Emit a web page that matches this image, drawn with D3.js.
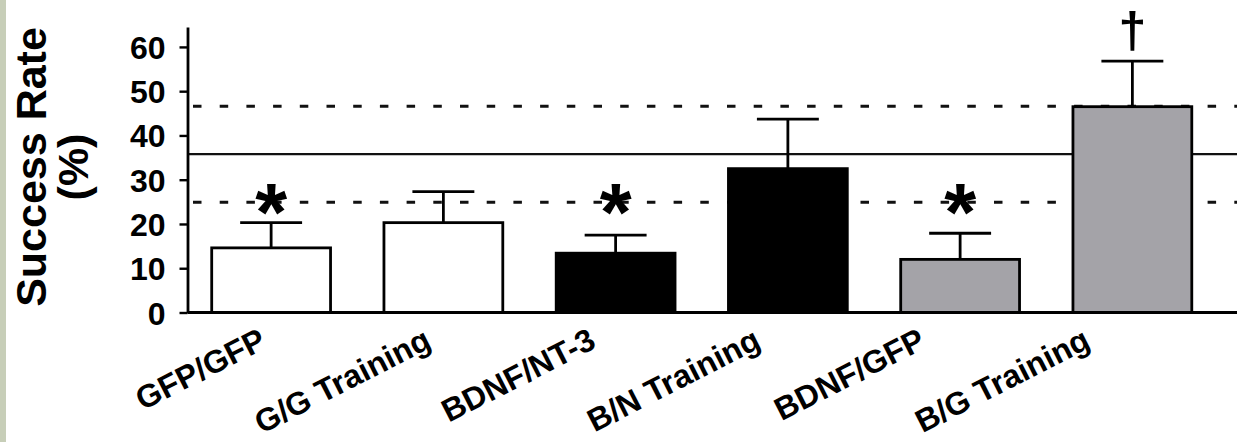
<!DOCTYPE html>
<html>
<head>
<meta charset="utf-8">
<script src="https://cdn.jsdelivr.net/npm/d3@7"></script>
<style>
  html, body { margin: 0; padding: 0; background: #ffffff; }
  svg { display: block; }
  text { font-family: "Liberation Sans", Arial, sans-serif; font-weight: bold; fill: #000; }
</style>
</head>
<body>
<svg id="chart" width="1237" height="442"></svg>
<script>
// Groups, mean success rate (%) and upper error (%)
const groups = ["GFP/GFP", "G/G Training", "BDNF/NT-3", "B/N Training", "BDNF/GFP", "B/G Training"];
const successRate = [14.6, 20.3, 13.4, 32.5, 12.0, 46.5];
const errorUp = [5.7, 7.0, 4.1, 11.2, 5.9, 10.3];
const barFills = ["#ffffff", "#ffffff", "#000000", "#000000", "#a4a3a8", "#a4a3a8"];
const marks = ["*", "", "*", "", "*", "\u2020"];

// Reference band: mean with upper and lower bounds (%)
const refMean = [35.8];
const refBounds = [46.6, 24.9];

const yTicks = [0, 10, 20, 30, 40, 50, 60];

const W = 1237, H = 442;
const svg = d3.select("#chart");

svg.append("rect").attr("width", W).attr("height", H).attr("fill", "#ffffff");
svg.append("rect").attr("x", 0).attr("y", 0).attr("width", 6).attr("height", H).attr("fill", "#c7ceb8");

const axisX = 187.5;
const y = d3.scaleLinear().domain([0, 64.5]).range([312.5, 27]);

const x = d3.scaleBand()
  .domain(groups)
  .range([axisX, 1216])
  .paddingInner(0.295)
  .paddingOuter(0.133);

// label anchor positions spread along the baseline
const xl = d3.scalePoint().domain(groups).range([268, 1092]);

// reference lines
svg.append("g").selectAll("line.bound")
  .data(refBounds).join("line")
  .attr("x1", 193).attr("x2", W)
  .attr("y1", d => y(d)).attr("y2", d => y(d))
  .attr("stroke", "#111").attr("stroke-width", 3)
  .attr("stroke-dasharray", "8.5,18.2");

svg.append("g").selectAll("line.mean")
  .data(refMean).join("line")
  .attr("x1", axisX).attr("x2", W)
  .attr("y1", d => y(d)).attr("y2", d => y(d))
  .attr("stroke", "#111").attr("stroke-width", 2.2);

// error bars (upper only)
const eb = svg.append("g").attr("stroke", "#000").attr("stroke-width", 2.8);
groups.forEach((g, i) => {
  const cx = x(g) + x.bandwidth() / 2;
  const capHalf = x.bandwidth() * 0.255;
  eb.append("line").attr("x1", cx).attr("x2", cx)
    .attr("y1", y(successRate[i])).attr("y2", y(successRate[i] + errorUp[i]));
  eb.append("line").attr("x1", cx - capHalf).attr("x2", cx + capHalf)
    .attr("y1", y(successRate[i] + errorUp[i])).attr("y2", y(successRate[i] + errorUp[i]));
});

// bars
svg.append("g").selectAll("rect")
  .data(groups).join("rect")
  .attr("x", d => x(d) + 1.3)
  .attr("width", x.bandwidth() - 2.6)
  .attr("y", (d, i) => y(successRate[i]))
  .attr("height", (d, i) => y(0) - y(successRate[i]))
  .attr("fill", (d, i) => barFills[i])
  .attr("stroke", "#000").attr("stroke-width", 2.8);

// baseline
svg.append("line")
  .attr("x1", axisX).attr("x2", W)
  .attr("y1", y(0)).attr("y2", y(0))
  .attr("stroke", "#000").attr("stroke-width", 2.8);

// y axis
const yAxis = d3.axisLeft(y).tickValues(yTicks).tickSize(8).tickSizeOuter(0).tickPadding(14);
const gy = svg.append("g").attr("transform", `translate(${axisX},0)`).call(yAxis);
gy.select(".domain").attr("stroke", "#000").attr("stroke-width", 2.8);
gy.selectAll(".tick line").attr("stroke", "#000").attr("stroke-width", 2.4);
gy.selectAll(".tick text")
  .attr("font-size", 32).attr("font-family", "Liberation Sans, Arial, sans-serif")
  .attr("font-weight", "bold").attr("fill", "#000").attr("dy", "0.36em");

// y title
const yt = svg.append("text")
  .attr("transform", "translate(46,167) rotate(-90)")
  .attr("text-anchor", "middle")
  .attr("font-size", 43);
yt.append("tspan").attr("x", 0).attr("y", 0).text("Success Rate");
yt.append("tspan").attr("x", 0).attr("y", 42).text("(%)");

// category labels
svg.append("g").selectAll("text")
  .data(groups).join("text")
  .attr("transform", d => `translate(${xl(d)},347) rotate(-27)`)
  .attr("text-anchor", "end")
  .attr("font-size", 32)
  .text(d => d);

// significance marks
svg.append("g").selectAll("text")
  .data(groups).join("text")
  .attr("x", d => x(d) + x.bandwidth() / 2)
  .attr("y", (d, i) => marks[i] === "*" ? y(refBounds[1]) + 38 : y(successRate[i] + errorUp[i]) - 14)
  .attr("text-anchor", "middle")
  .attr("font-size", (d, i) => marks[i] === "*" ? 82 : 50)
  .text((d, i) => marks[i]);
</script>
</body>
</html>
